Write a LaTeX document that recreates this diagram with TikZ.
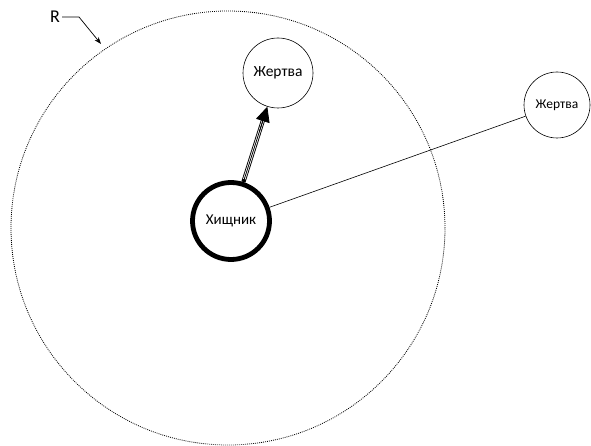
\documentclass[tikz,border=0pt]{standalone}
\usepackage{fontspec}
\setmainfont{Carlito}
\usetikzlibrary{arrows.meta,calc}
\begin{document}
\begin{tikzpicture}[x=1pt,y=-1pt,
  prey/.style={circle,draw,line width=0.6pt,minimum size=#1,inner sep=0pt},
  pred/.style={circle,draw,line width=4.8pt,minimum size=77pt,inner sep=0pt,font=\fontsize{15}{17}\selectfont}]
\useasboundingbox (0,0) rectangle (591,446);
\node[draw,circle,line width=0.8pt,dash pattern=on 0.9pt off 1.1pt,minimum size=434pt,inner sep=0pt] (R) at (228,228) {};
\node[pred] (h) at (231,221) {Хищник};
\node[prey=70pt,font=\fontsize{15.5}{17}\selectfont] (p1) at (278,73) {Жертва};
\node[prey=66pt,font=\fontsize{13.5}{15}\selectfont] (p2) at (557,105) {Жертва};
\draw[line width=0.6pt] (h) -- (p2);
\draw[line width=4.2pt,shorten >=10pt] (h) -- (p1);
\draw[line width=2.4pt,white,shorten >=10pt,shorten <=3pt] (h) -- (p1);
\draw[line width=0.8pt,shorten >=10pt] (h) -- (p1);
\draw[-{Triangle[length=15pt,width=14pt]},line width=0.8pt] ($(h)!0.6!(p1)$) -- (p1);
\node[font=\fontsize{18}{20}\selectfont,inner sep=0pt] (lbl) at (55,17) {R};
\coordinate (c1) at (79,17);
\coordinate (c2) at (101,44);
\draw[line width=0.7pt,-{Stealth[length=7pt,width=5pt]}] (lbl.east) ++(2pt,0) -- (c1) -- (c2);
\end{tikzpicture}
\end{document}
